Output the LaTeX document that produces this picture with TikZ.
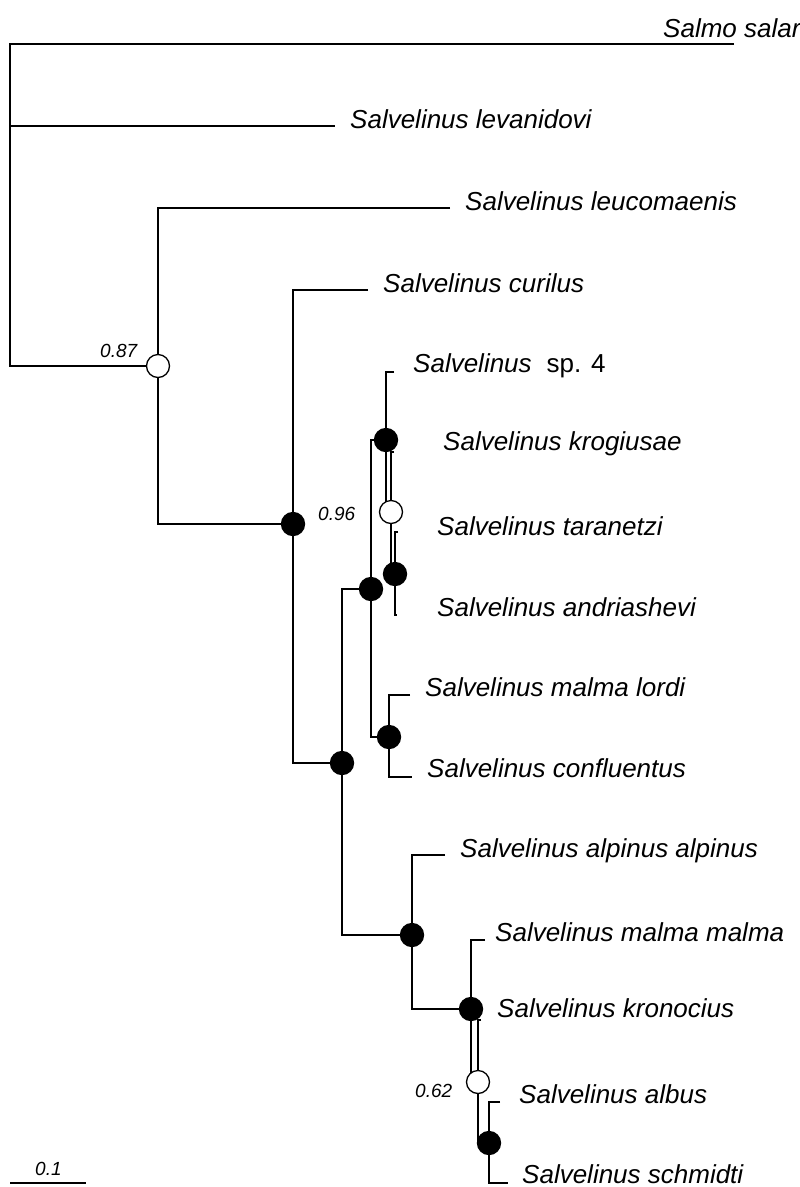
\documentclass[tikz,border=0pt]{standalone}
\usepackage{fontspec}
\setmainfont{Liberation Sans}
\begin{document}
\begin{tikzpicture}[x=1pt,y=-1pt,
  branch/.style={line width=2pt},
  full/.style={circle,draw=black,fill=black,line width=1.3pt,minimum size=23pt,inner sep=0pt},
  hollow/.style={circle,draw=black,fill=white,line width=1.3pt,minimum size=23pt,inner sep=0pt},
  taxon/.style={anchor=base west,inner sep=0pt,font=\fontsize{26}{30}\selectfont\itshape},
  support/.style={anchor=base west,inner sep=0pt,font=\fontsize{19}{22}\selectfont\itshape}]
\useasboundingbox (0,0) rectangle (800,1187);
% internal node positions
\coordinate (root) at (10,205);
\coordinate (n87) at (158,366);
\coordinate (n96) at (293,524);
\coordinate (nA) at (342,763);
\coordinate (nB) at (371,589);
\coordinate (nC) at (386,440);
\coordinate (nD) at (391,512);
\coordinate (nE) at (395,574);
\coordinate (nF) at (389,737);
\coordinate (nG) at (412,935);
\coordinate (nH) at (471,1009);
\coordinate (nI) at (478,1082);
\coordinate (nJ) at (489,1143);
% tips
\coordinate (tSalmo) at (734,44);
\coordinate (tLev) at (335,126);
\coordinate (tLeuc) at (450,208);
\coordinate (tCur) at (368,290);
\coordinate (tSp) at (394,372);
\coordinate (tKrog) at (394,452);
\coordinate (tTar) at (398,532);
\coordinate (tAnd) at (397,615);
\coordinate (tLordi) at (410,695);
\coordinate (tConf) at (412,777);
\coordinate (tAlp) at (445,855);
\coordinate (tMM) at (485,940);
\coordinate (tKron) at (481,1020);
\coordinate (tAlb) at (500,1102);
\coordinate (tSch) at (508,1183);
% branches
\draw[branch] (tSalmo) -| (root) |- (n87);
\draw[branch] (root) |- (tLev);
\draw[branch] (tLeuc) -| (n87) |- (n96);
\draw[branch] (tCur) -| (n96) |- (nA);
\draw[branch] (nB) -| (nA) |- (nG);
\draw[branch] (nC) -| (nB) |- (nF);
\draw[branch] (tSp) -| (nC) |- (nD);
\draw[branch] (tKrog) -| (nD) |- (nE);
\draw[branch] (tTar) -| (nE) |- (tAnd);
\draw[branch] (tLordi) -| (nF) |- (tConf);
\draw[branch] (tAlp) -| (nG) |- (nH);
\draw[branch] (tMM) -| (nH) |- (nI);
\draw[branch] (tKron) -| (nI) |- (nJ);
\draw[branch] (tAlb) -| (nJ) |- (tSch);
% node markers
\node[hollow] (c87) at (n87) {};
\node[full] (c96) at (n96) {};
\node[full] (cA) at (nA) {};
\node[full] (cB) at (nB) {};
\node[full] (cC) at (nC) {};
\node[hollow] (cD) at (nD) {};
\node[full] (cE) at (nE) {};
\node[full] (cF) at (nF) {};
\node[full] (cG) at (nG) {};
\node[full] (cH) at (nH) {};
\node[hollow] (cI) at (nI) {};
\node[full] (cJ) at (nJ) {};
% taxon labels
\node[taxon] (lSalmo) at (663,37) {Salmo salar};
\node[taxon] (lLev) at (350,128) {Salvelinus levanidovi};
\node[taxon] (lLeuc) at (465,210) {Salvelinus leucomaenis};
\node[taxon] (lCur) at (383,292) {Salvelinus curilus};
\node[taxon] (lSp) at (413,372) {Salvelinus\hspace{15pt}\upshape sp. 4};
\node[taxon] (lKrog) at (443,450) {Salvelinus krogiusae};
\node[taxon] (lTar) at (437,535) {Salvelinus taranetzi};
\node[taxon] (lAnd) at (437,616) {Salvelinus andriashevi};
\node[taxon] (lLordi) at (425,696) {Salvelinus malma lordi};
\node[taxon] (lConf) at (427,777) {Salvelinus confluentus};
\node[taxon] (lAlp) at (460,857) {Salvelinus alpinus alpinus};
\node[taxon] (lMM) at (495,941) {Salvelinus malma malma};
\node[taxon] (lKron) at (497,1017) {Salvelinus kronocius};
\node[taxon] (lAlb) at (519,1103) {Salvelinus albus};
\node[taxon] (lSch) at (522,1183) {Salvelinus schmidti};
% support values
\node[support] (s87) at (100,357) {0.87};
\node[support] (s96) at (318,520) {0.96};
\node[support] (s62) at (415,1097) {0.62};
% scale bar
\coordinate (sb1) at (10,1183);
\coordinate (sb2) at (86,1183);
\draw[line width=1.5pt] (sb1) -- (sb2);
\node[support] (sbl) at (35,1175) {0.1};
\end{tikzpicture}
\end{document}
